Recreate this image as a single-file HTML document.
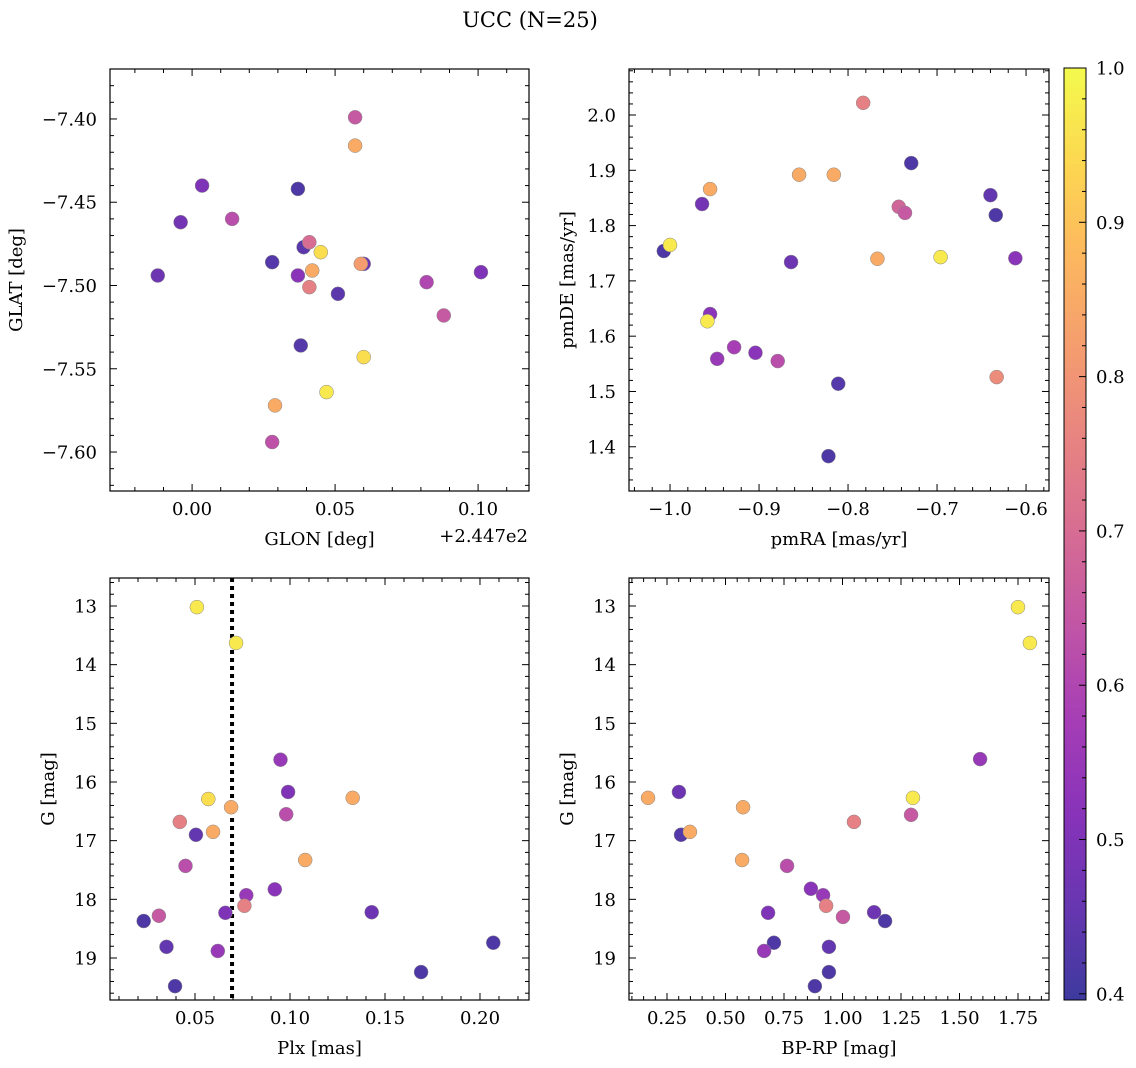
<!DOCTYPE html>
<html><head><meta charset="utf-8"><style>
body{margin:0;background:#fff;}
svg{display:block;font-family:"DejaVu Serif","Liberation Serif",serif;}
</style></head><body>
<svg id="c" width="1136" height="1068" viewBox="0 0 1136 1068"></svg>
<script>
// ---- data ----
const tlX=[0.057,0.057,0.0035,-0.004,0.014,-0.012,0.037,0.028,0.039,0.041,0.045,0.042,0.037,0.041,0.051,0.060,0.059,0.082,0.101,0.088,0.038,0.060,0.047,0.029,0.028];
const tlY=[-7.399,-7.416,-7.440,-7.462,-7.460,-7.494,-7.442,-7.486,-7.477,-7.474,-7.480,-7.491,-7.494,-7.501,-7.505,-7.487,-7.487,-7.498,-7.492,-7.518,-7.536,-7.543,-7.564,-7.572,-7.594];
const tlC=[0.65,0.85,0.5,0.48,0.62,0.47,0.42,0.43,0.44,0.7,0.95,0.85,0.52,0.75,0.44,0.47,0.82,0.6,0.5,0.65,0.43,0.95,0.97,0.85,0.63];
const trX=[-0.783,-0.729,-0.955,-0.964,-0.855,-0.816,-0.640,-0.634,-0.743,-0.736,-1.007,-1.0,-0.864,-0.767,-0.696,-0.612,-0.955,-0.958,-0.947,-0.928,-0.904,-0.879,-0.811,-0.633,-0.822];
const trY=[2.022,1.913,1.866,1.839,1.892,1.892,1.855,1.819,1.834,1.823,1.754,1.765,1.734,1.740,1.743,1.741,1.640,1.627,1.559,1.580,1.570,1.555,1.514,1.526,1.383];
const trC=[0.75,0.42,0.85,0.48,0.85,0.85,0.45,0.42,0.68,0.65,0.42,0.97,0.47,0.85,0.97,0.52,0.52,0.97,0.55,0.58,0.52,0.62,0.43,0.78,0.42];
const blX=[0.051,0.0716,0.095,0.057,0.069,0.099,0.098,0.042,0.133,0.0505,0.0595,0.108,0.045,0.077,0.092,0.076,0.023,0.031,0.066,0.143,0.035,0.062,0.207,0.169,0.0395];
const blY=[13.02,13.63,15.62,16.29,16.43,16.17,16.55,16.68,16.27,16.90,16.85,17.33,17.43,17.93,17.83,18.11,18.37,18.28,18.23,18.22,18.81,18.88,18.74,19.24,19.48];
const blC=[0.97,0.97,0.55,0.95,0.85,0.5,0.62,0.75,0.85,0.45,0.85,0.85,0.62,0.55,0.52,0.75,0.42,0.65,0.5,0.47,0.45,0.55,0.42,0.42,0.42];
const brX=[1.750,1.801,1.588,1.301,0.169,0.301,0.575,1.293,1.049,0.310,0.348,0.571,0.763,0.865,0.917,0.930,1.002,1.135,1.182,0.682,0.707,0.665,0.942,0.942,0.882];
const brY=[13.02,13.63,15.61,16.27,16.27,16.17,16.43,16.56,16.68,16.90,16.85,17.33,17.43,17.82,17.93,18.11,18.30,18.22,18.37,18.23,18.74,18.88,18.81,19.24,19.48];
const brC=[0.97,0.97,0.55,0.97,0.85,0.47,0.85,0.65,0.75,0.43,0.85,0.85,0.62,0.52,0.55,0.75,0.65,0.47,0.42,0.5,0.42,0.55,0.45,0.42,0.42];
const plxLine=0.0695;
const cbTicks=[0.4,0.5,0.6,0.7,0.8,0.9,1.0];
const vmin=0.396,vmax=1.0;

const FS=18;
const NS="http://www.w3.org/2000/svg";
const svg=document.getElementById('c');
function mk(t,a,p){const e=document.createElementNS(NS,t);for(const k in a)e.setAttribute(k,a[k]);(p||svg).appendChild(e);return e;}
const stops=["#0d0887","#41049d","#6a00a8","#8f0da4","#b12a90","#cc4778","#e16462","#f2844b","#fca636","#fcce25","#f0f921"];
function hx(h){return [1,3,5].map(i=>parseInt(h.substr(i,2),16));}
function plasma(t){t=Math.max(0,Math.min(1,t));const f=t*10,i=Math.min(9,Math.floor(f)),r=f-i;const a=hx(stops[i]),b=hx(stops[i+1]);
 const c=a.map((v,k)=>v+(b[k]-v)*r).map(v=>Math.round(v*0.8+255*0.2));return `rgb(${c[0]},${c[1]},${c[2]})`;}
function cm(v){return plasma((v-vmin)/(vmax-vmin));}

function fmt(v,d){let s=v.toFixed(d);return s.replace('-','\u2212');}
function panel(o){
 const g=mk('g',{});
 const sx=v=>o.x0+(v-o.xr[0])/(o.xr[1]-o.xr[0])*(o.x1-o.x0);
 const sy=v=>o.inv? o.y0+(v-o.yr[0])/(o.yr[1]-o.yr[0])*(o.y1-o.y0) : o.y1-(v-o.yr[0])/(o.yr[1]-o.yr[0])*(o.y1-o.y0);
 mk('rect',{x:o.x0,y:o.y0,width:o.x1-o.x0,height:o.y1-o.y0,fill:'none',stroke:'#000','stroke-width':1.2},g);
 const tk=mk('g',{stroke:'#000','stroke-width':1},g);
 const eps=1e-9;
 for(let v=Math.ceil(o.xr[0]/o.xm-eps)*o.xm;v<=o.xr[1]+eps;v+=o.xm){const X=sx(v);const maj=Math.abs(v/o.xM-Math.round(v/o.xM))<1e-6;const L=maj?7:4;
  mk('line',{x1:X,x2:X,y1:o.y1,y2:o.y1-L},tk);mk('line',{x1:X,x2:X,y1:o.y0,y2:o.y0+L},tk);
  if(maj){const t=mk('text',{x:X,y:o.y1+24,'font-size':FS,'text-anchor':'middle'},g);t.textContent=fmt(v,o.xd);}}
 for(let v=Math.ceil(o.yr[0]/o.ym-eps)*o.ym;v<=o.yr[1]+eps;v+=o.ym){const Y=sy(v);const maj=Math.abs(v/o.yM-Math.round(v/o.yM))<1e-6;const L=maj?7:4;
  mk('line',{y1:Y,y2:Y,x1:o.x0,x2:o.x0+L},tk);mk('line',{y1:Y,y2:Y,x1:o.x1,x2:o.x1-L},tk);
  if(maj){const t=mk('text',{x:o.x0-13,y:Y+6.5,'font-size':FS,'text-anchor':'end'},g);t.textContent=fmt(v,o.yd);}}
 const xl=mk('text',{x:(o.x0+o.x1)/2,y:o.y1+54,'font-size':FS,'text-anchor':'middle'},g);xl.textContent=o.xl;
 
 const yl=mk('text',{x:0,y:0,'font-size':FS,'text-anchor':'middle',transform:`translate(${o.x0-o.ylo},${(o.y0+o.y1)/2}) rotate(-90)`},g);yl.textContent=o.yl;
 
 if(o.vline!==undefined){const l=mk('line',{x1:sx(o.vline),x2:sx(o.vline),y1:o.y0,y2:o.y1,stroke:'#000','stroke-width':4,'stroke-dasharray':'4,4'},g);
  }
 o.X.forEach((v,i)=>{const c=mk('circle',{cx:sx(v),cy:sy(o.Y[i]),r:7,fill:cm(o.C[i]),stroke:'#888','stroke-width':0.5},g);
  });
 return g;
}
panel({name:'glon-glat-panel',x0:110,x1:529,y0:69,y1:491,xr:[-0.0287,0.1178],yr:[-7.6234,-7.370],xM:0.05,xm:0.01,yM:0.05,ym:0.01,xd:2,yd:2,xl:'GLON [deg]',yl:'GLAT [deg]',ylo:88,X:tlX,Y:tlY,C:tlC});
panel({name:'pm-panel',x0:629,x1:1049,y0:69,y1:491,xr:[-1.0461,-0.5742],yr:[1.320,2.0832],xM:0.1,xm:0.02,yM:0.1,ym:0.02,xd:1,yd:1,xl:'pmRA [mas/yr]',yl:'pmDE [mas/yr]',ylo:56,X:trX,Y:trY,C:trC});
panel({name:'plx-g-panel',x0:110,x1:529,y0:578,y1:1000,xr:[0.00526,0.2258],yr:[12.523,19.716],inv:true,xM:0.05,xm:0.01,yM:1,ym:0.2,xd:2,yd:0,xl:'Plx [mas]',yl:'G [mag]',ylo:56,vline:plxLine,X:blX,Y:blY,C:blC});
panel({name:'cmd-panel',x0:629,x1:1049,y0:578,y1:1000,xr:[0.0876,1.8825],yr:[12.523,19.716],inv:true,xM:0.25,xm:0.05,yM:1,ym:0.2,xd:2,yd:0,xl:'BP-RP [mag]',yl:'G [mag]',ylo:56,X:brX,Y:brY,C:brC});
const off=mk('text',{x:528,y:542,'font-size':FS,'text-anchor':'end'});off.textContent='+2.447e2';

const ti=mk('text',{x:530,y:27,'font-size':21,'text-anchor':'middle'});ti.textContent='UCC (N=25)';

// colorbar
const cb=mk('g',{});
const cy0=68,cy1=1000,cx=1064,cw=22;
for(let i=0;i<233;i++){const y=cy0+i*4;const v=vmax-(y+2-cy0)/(cy1-cy0)*(vmax-vmin);mk('rect',{x:cx,y:y,width:cw,height:4.5,fill:cm(v)},cb);}
mk('rect',{x:cx,y:cy0,width:cw,height:cy1-cy0,fill:'none',stroke:'#000','stroke-width':1},cb);
const cys=v=>cy1-(v-vmin)/(vmax-vmin)*(cy1-cy0);
for(let v=0.4;v<=1.0001;v+=0.02){const Y=cys(v);const maj=Math.abs(v*10-Math.round(v*10))<1e-6;mk('line',{x1:cx+cw,x2:cx+cw-(maj?7:4),y1:Y,y2:Y,stroke:'#000'},cb);}
cbTicks.forEach(v=>{const t=mk('text',{x:cx+cw+10,y:cys(v)+6.5,'font-size':FS},cb);t.textContent=v.toFixed(1);
 });
</script>
</body></html>
